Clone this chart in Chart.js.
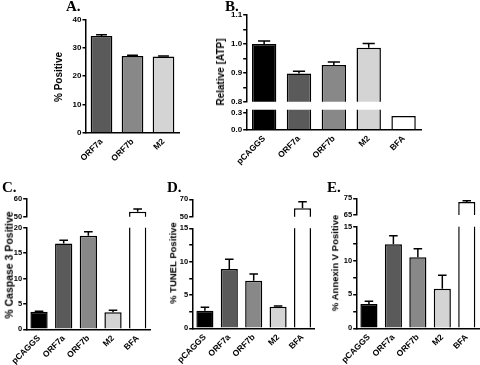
<!DOCTYPE html>
<html>
<head>
<meta charset="utf-8">
<script src="https://cdn.jsdelivr.net/npm/chart.js@4"></script>
<style>
  html, body { margin: 0; padding: 0; background: #fff; overflow: hidden; }
  #fig { position: relative; width: 480px; height: 365px; }
  #fig canvas { position: absolute; }
  .letter { position: absolute; font: bold 15px "Liberation Serif", "Times New Roman", serif; line-height: 15px; color: #000; }
  .ytitle { position: absolute; font-family: "Liberation Sans", Arial, sans-serif; font-weight: bold; color: #000;
            white-space: nowrap; line-height: 1; transform: translate(-50%, -50%) rotate(-90deg); }
</style>
</head>
<body>
<div id="fig"></div>
<script>
// panel A
var labelsA = ["ORF7a", "ORF7b", "M2"];
var valuesA = [34.2, 27.1, 26.9];
var errorsA = [0.4, 0.3, 0.2];

// panels B-E share the same five groups
var labels5 = ["pCAGGS", "ORF7a", "ORF7b", "M2", "BFA"];
var valuesB = [1.0, 0.898, 0.927, 0.987, 0.24];
var errorsB = [0.01, 0.007, 0.01, 0.014, 0];
var valuesC = [3.45, 16.9, 18.4, 3.35, 52.8];
var errorsC = [0.1, 0.65, 0.8, 0.4, 1.6];
var valuesD = [2.65, 8.9, 7.15, 3.25, 59.7];
var errorsD = [0.5, 1.45, 1.0, 0.1, 7.5];
var valuesE = [3.6, 12.4, 10.5, 5.85, 72.8];
var errorsE = [0.4, 1.25, 1.25, 2.0, 0.8];

// y ticks per axis segment (first = min, last = max unless noted)
var ticksA = [0, 10, 20, 30, 40];
var ticksBTop = [0.8, 0.85, 0.9, 0.95, 1.0, 1.05, 1.1];
var ticksBLow = [0, 0.3];           // segment runs up to 0.35
var ticksCTop = [50, 60];
var ticksCLow = [0, 5, 10, 15, 20];
var ticksDTop = [50, 70];
var ticksDLow = [0, 2.5, 5, 7.5, 10, 12.5, 15];
var ticksETop = [65, 75];
var ticksELow = [0, 2.5, 5, 7.5, 10, 12.5, 15];

var colorsA = ["#5a5a5a", "#888888", "#d4d4d4"];
var colors5 = ["#000000", "#5a5a5a", "#888888", "#d4d4d4", "#ffffff"];
var FONT = '"Liberation Sans", Arial, sans-serif';
var fig = document.getElementById("fig");

var errorBars = {
  id: "errorBars",
  afterDatasetsDraw: function (chart) {
    var ctx = chart.ctx, area = chart.chartArea, y = chart.scales.y;
    var ds = chart.data.datasets[0];
    var meta = chart.getDatasetMeta(0);
    ctx.save();
    ctx.beginPath();
    ctx.rect(area.left, area.top - 1, area.right - area.left, area.bottom - area.top + 1);
    ctx.clip();
    ctx.strokeStyle = "#000";
    ctx.lineWidth = 1.5;
    meta.data.forEach(function (bar, i) {
      var e = ds.errors[i];
      if (!e) return;
      var y0 = y.getPixelForValue(ds.data[i]), y1 = y.getPixelForValue(ds.data[i] + e);
      var half = bar.width / 4;
      ctx.beginPath();
      ctx.moveTo(bar.x, y0);
      ctx.lineTo(bar.x, y1);
      ctx.moveTo(bar.x - half, y1);
      ctx.lineTo(bar.x + half, y1);
      ctx.stroke();
    });
    ctx.restore();
  }
};

var AX = 40, PT = 8, PR = 4, PB = 4, XH = 50;

function fmtTenth(v) {
  var r = Math.round(v * 10);
  return Math.abs(v * 10 - r) < 1e-6 ? (r / 10).toFixed(1) : "";
}
function fmtFive(v) {
  return Math.abs(v / 5 - Math.round(v / 5)) < 1e-6 ? String(v) : "";
}

// box = [left, top, right, bottom] of the plot area on the page
function segment(box, labels, values, errors, colors, ticks, max, showX, fsize, fmt) {
  var l = box[0], t = box[1], r = box[2], b = box[3];
  var cl = Math.floor(l - AX), ct = Math.floor(t - PT);
  var bottomEdge = showX ? b + XH : b + PB;
  var cw = Math.ceil(r + PR) - cl, ch = Math.ceil(bottomEdge) - ct;
  var canvas = document.createElement("canvas");
  canvas.width = cw;
  canvas.height = ch;
  canvas.style.left = cl + "px";
  canvas.style.top = ct + "px";
  canvas.style.width = cw + "px";
  canvas.style.height = ch + "px";
  fig.appendChild(canvas);

  var xScale = {
    display: showX,
    grid: { display: false, drawTicks: false },
    border: { display: true, color: "#000", width: 1.5 },
    ticks: { color: "#000", font: { family: FONT, weight: "bold", size: 8.5 }, minRotation: 45, maxRotation: 45, autoSkip: false, padding: 4 }
  };
  if (showX) {
    xScale.afterFit = function (s) { s.height = XH; s.paddingLeft = 0; s.paddingRight = 0; };
  }

  new Chart(canvas.getContext("2d"), {
    type: "bar",
    data: {
      labels: labels,
      datasets: [{
        data: values, errors: errors, backgroundColor: colors, borderColor: "#000",
        borderWidth: 1.5, barPercentage: 0.7, categoryPercentage: 1, clip: 0
      }]
    },
    options: {
      responsive: false,
      animation: false,
      devicePixelRatio: 1,
      layout: { padding: { left: l - AX - cl, top: t - ct, right: cl + cw - r, bottom: ct + ch - (showX ? b + XH : b) } },
      plugins: { legend: { display: false }, tooltip: { enabled: false } },
      scales: {
        x: xScale,
        y: {
          min: ticks[0], max: max,
          grid: { display: true, drawOnChartArea: false, drawTicks: true, tickLength: 3.5, color: "#000", lineWidth: 1.5 },
          border: { display: true, color: "#000", width: 1.5 },
          ticks: { autoSkip: false, color: "#000", padding: 1,
                   font: { family: FONT, weight: "bold", size: fsize }, callback: fmt || function (v) { return String(v); } },
          afterBuildTicks: function (s) { s.ticks = ticks.map(function (v) { return { value: v }; }); },
          afterFit: function (s) { s.width = AX; s.paddingTop = 0; s.paddingBottom = 0; }
        }
      }
    },
    plugins: [errorBars]
  });
}

function addText(cls, text, x, y, size) {
  var d = document.createElement("div");
  d.className = cls;
  d.textContent = text;
  d.style.left = x + "px";
  d.style.top = y + "px";
  if (size) d.style.fontSize = size + "px";
  fig.appendChild(d);
}

// A
segment([86, 19.5, 179, 132.7], labelsA, valuesA, errorsA, colorsA, ticksA, 40, true, 8);
// B (broken axis)
segment([246.7, 15, 421, 101.7], labels5, valuesB, errorsB, colors5, ticksBTop, 1.1, false, 8, fmtTenth);
segment([246.7, 109.8, 421, 129.7], labels5, valuesB, errorsB, colors5, ticksBLow, 0.35, true, 8, function (v) { return v.toFixed(1); });
// C
segment([26.7, 199, 150, 216.7], labels5, valuesC, errorsC, colors5, ticksCTop, 60, false, 7.5);
segment([26.7, 227.7, 150, 329.3], labels5, valuesC, errorsC, colors5, ticksCLow, 20, true, 7.5);
// D
segment([192.7, 199.3, 314.7, 216.7], labels5, valuesD, errorsD, colors5, ticksDTop, 70, false, 7.5);
segment([192.7, 228.3, 314.7, 328.3], labels5, valuesD, errorsD, colors5, ticksDLow, 15, true, 7.5, fmtFive);
// E
segment([356.7, 198.3, 479, 215], labels5, valuesE, errorsE, colors5, ticksETop, 75, false, 7.5);
segment([356.7, 226.7, 479, 328.3], labels5, valuesE, errorsE, colors5, ticksELow, 15, true, 7.5, fmtFive);

addText("letter", "A.", 66, -1);
addText("letter", "B.", 225, -1);
addText("letter", "C.", 2, 179.5);
addText("letter", "D.", 167, 179.5);
addText("letter", "E.", 327, 179.5);

addText("ytitle", "% Positive", 59, 76.5, 10);
addText("ytitle", "Relative [ATP]", 221, 72, 10);
addText("ytitle", "% Caspase 3 Positive", 9, 265, 10.5);
addText("ytitle", "% TUNEL Positive", 173, 263, 9.5);
addText("ytitle", "% Annexin V Positive", 335, 263, 9.5);
</script>
</body>
</html>
